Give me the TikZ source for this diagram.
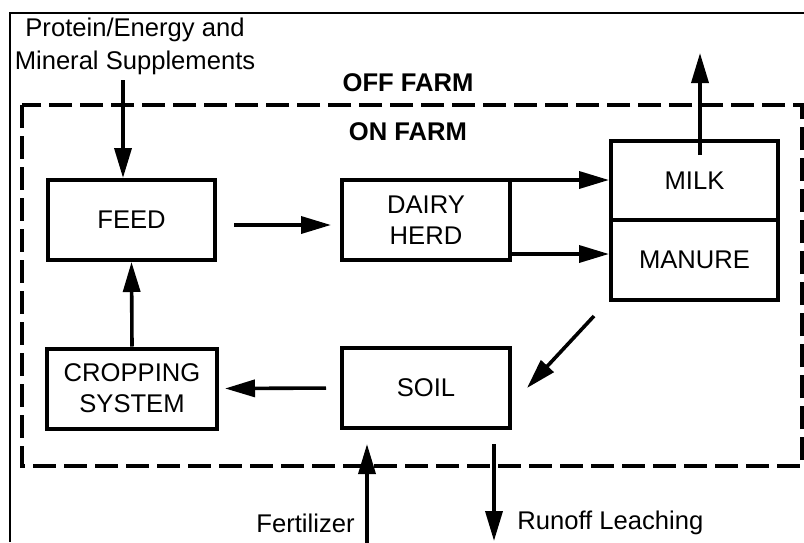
\documentclass[tikz,border=0pt]{standalone}
\usepackage{fontspec}
\setmainfont{Liberation Sans}
\usetikzlibrary{arrows.meta}
\tikzset{
	box/.style={draw, line width=2pt, minimum width=83.5pt, minimum height=40pt, inner sep=0pt, align=center, font=\fontsize{12.8}{15.5}\selectfont},
	arr/.style={line width=1.8pt, -{Triangle[length=15pt,width=8.5pt]}},
	lbl/.style={inner sep=0pt, font=\fontsize{12.8}{16.5}\selectfont},
	farm/.style={inner sep=0pt, font=\fontsize{12.8}{15}\selectfont\bfseries},
}

\begin{document}
\begin{tikzpicture}[x=0.5pt, y=-0.5pt]
		%%%%% START %%%%%
		
		\useasboundingbox (0, 0) rectangle (804, 542);
		
		\draw[line width=1pt] (10, 542) -- (10, 13) -- (804, 13);
		\draw[line width=2pt, dash pattern=on 11.5pt off 4pt] (22, 105) rectangle (802, 466);
		
		\node[farm] (offfarm) at (408, 83) {OFF FARM};
		\node[farm] (onfarm) at (408, 132) {ON FARM};
		
		\node[box] (feed) at (131.5, 220) {FEED};
		\node[box, minimum width=84pt] (dairy) at (426, 220) {DAIRY\\HERD};
		\node[box, minimum height=39.5pt] (milk) at (694.5, 180.5) {MILK};
		\node[box] (manure) at (694.5, 260) {MANURE};
		\node[box, minimum width=85pt] (crop) at (132, 388.5) {CROPPING\\SYSTEM};
		\node[box, minimum width=84pt] (soil) at (426, 388) {SOIL};
		
		\node[lbl, align=center] (supp) at (135, 46) {Protein/Energy and\\Mineral Supplements};
		\node[lbl, anchor=east] (fertlbl) at (355, 523) {Fertilizer};
		\node[lbl, anchor=west] (runlbl) at (517, 523) {Runoff Leaching};
		
		\coordinate (suppin) at (123, 80);
		\coordinate (milkout) at (700, 53);
		\coordinate (fertin) at (367, 545);
		\coordinate (runout) at (494, 541);
		
		\draw[arr] (suppin) -- (suppin |- feed.north);
		\draw[arr, shorten <=8.5pt, shorten >=4.5pt] ([yshift=-2.5pt]feed.east) -- ([yshift=-2.5pt]dairy.west);
		\draw[arr] ([yshift=-1pt]dairy.north east) -- ([yshift=-1pt]dairy.north east -| milk.west);
		\draw[arr] ([yshift=4pt]dairy.south east) -- ([yshift=4pt]dairy.south east -| manure.west);
		\draw[arr] (milkout |- 0, 155) -- (milkout);
		\draw[arr] ([shift={(-7.5pt,-7pt)}]manure.south west) -- ([xshift=7.5pt]soil.east);
		\draw[arr, shorten <=7pt, shorten >=3pt] (soil.west) -- (crop.east);
		\draw[arr] (crop.north) -- (feed.south);
		\draw[arr, shorten >=7pt] (fertin) -- (fertin |- soil.south);
		\draw[arr, shorten <=7pt] (runout |- soil.south) -- (runout);
		
		%%%%% END %%%%%
	\end{tikzpicture}
\end{document}
